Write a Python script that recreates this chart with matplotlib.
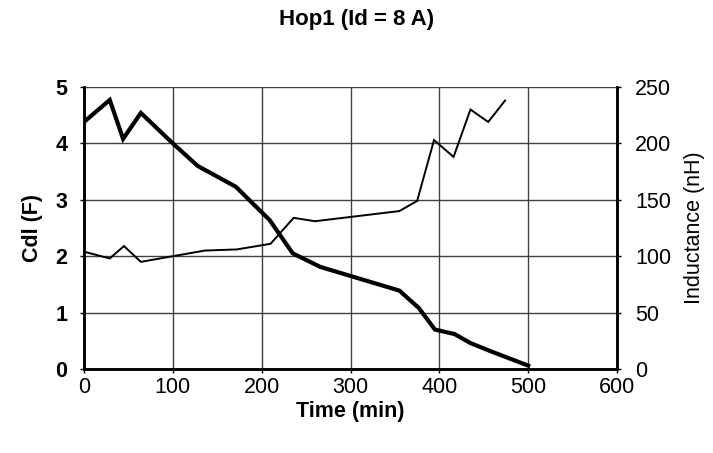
import matplotlib.pyplot as plt

plt.rcParams['font.family'] = ['Liberation Sans', 'DejaVu Sans']

# Cdl (F) vs time
t_cdl = [0, 29, 44, 64, 100, 128, 171, 209, 235, 266, 355, 377, 395, 417, 435, 457, 500]
cdl = [4.38, 4.77, 4.08, 4.54, 4.0, 3.60, 3.23, 2.64, 2.05, 1.81, 1.39, 1.08, 0.70, 0.62, 0.46, 0.32, 0.06]

# Inductance (nH) vs time
t_ind = [0, 29, 45, 64, 136, 172, 210, 236, 260, 355, 375, 394, 416, 435, 455, 474]
ind = [104, 98, 109, 95, 105, 106, 111, 134, 131, 140, 149, 203, 188, 230, 219, 238]

fig = plt.figure(figsize=(7.13, 4.53), dpi=100)
ax = fig.add_axes([0.1178, 0.1854, 0.7476, 0.6226])
ax2 = ax.twinx()

ax.plot(t_cdl, cdl, color='black', lw=3.0, solid_joinstyle='miter', zorder=3)
ax2.plot(t_ind, ind, color='black', lw=1.4, solid_joinstyle='miter', zorder=3)

ax.set_xlim(0, 600)
ax.set_ylim(0, 5)
ax2.set_ylim(0, 250)
ax.set_xticks(range(0, 601, 100))
ax.set_yticks(range(0, 6))
ax2.set_yticks(range(0, 251, 50))

ax.grid(True, color='#404040', lw=1.0)
ax.set_axisbelow(True)

for a in (ax, ax2):
    a.spines['top'].set_visible(False)
    for s in ('left', 'bottom', 'right'):
        a.spines[s].set_linewidth(1.8)
ax.tick_params(axis='x', direction='out', length=3, width=1, labelsize=15.5, pad=3)
ax.tick_params(axis='y', direction='out', length=3, width=1, labelsize=15.5, pad=9)
ax2.tick_params(axis='y', direction='out', length=3, width=1, labelsize=15.5, pad=10)
for lab in ax.get_yticklabels():
    lab.set_fontweight('bold')

ax.set_xlabel('Time (min)', fontsize=15.5, fontweight='bold', labelpad=2)
ax.set_ylabel('Cdl (F)', fontsize=15.5, fontweight='bold', labelpad=9)
ax2.set_ylabel('Inductance (nH)', fontsize=15.5, labelpad=9)
fig.suptitle('Hop1 (Id = 8 A)', fontsize=16, fontweight='bold', x=0.5, y=0.98)

fig.savefig('out.png', dpi=100)
